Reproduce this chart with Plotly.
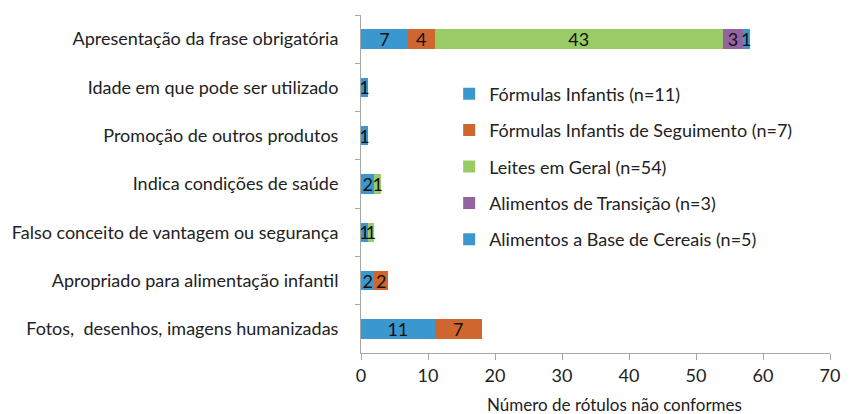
import plotly.graph_objects as go

categories = [
    "Apresentação da frase obrigatória",
    "Idade em que pode ser utilizado",
    "Promoção de outros produtos",
    "Indica condições de saúde",
    "Falso conceito de vantagem ou segurança",
    "Apropriado para alimentação infantil",
    "Fotos,  desenhos, imagens humanizadas",
]
series_names = [
    "Fórmulas Infantis (n=11)",
    "Fórmulas Infantis de Seguimento (n=7)",
    "Leites em Geral (n=54)",
    "Alimentos de Transição (n=3)",
    "Alimentos a Base de Cereais (n=5)",
]
formulas_infantis = [7, 1, 1, 2, 1, 2, 11]
formulas_seguimento = [4, None, None, None, None, 2, 7]
leites_geral = [43, None, None, 1, 1, None, None]
alimentos_transicao = [3, None, None, None, None, None, None]
alimentos_cereais = [1, None, None, None, None, None, None]
series_values = [formulas_infantis, formulas_seguimento, leites_geral,
                 alimentos_transicao, alimentos_cereais]
colors = ["#3A98CE", "#D0662F", "#9BCB66", "#9464A0", "#3A98CE"]
x_ticks = [0, 10, 20, 30, 40, 50, 60, 70]
x_title = "Número de rótulos não conformes"

FONT = "Lato, 'Open Sans', sans-serif"
FS = 18

fig = go.Figure()
for i, (name, vals, col) in enumerate(zip(series_names, series_values, colors)):
    fig.add_trace(go.Bar(
        y=categories, x=vals, name=name, orientation="h",
        legendgroup="g%d" % i,
        marker=dict(color=col, line=dict(width=0)),
        text=[str(v) if v else "" for v in vals],
        textposition="inside", insidetextanchor="middle",
        textangle=0, constraintext="none",
        textfont=dict(color="#111111", size=FS, family=FONT),
    ))

# page has an 8px body margin, so the figure is 844x406 placed at (8, 8)
fig.update_layout(
    barmode="stack",
    bargap=0.60,
    width=844, height=406,
    margin=dict(l=353, r=22, t=7, b=61, autoexpand=False),
    plot_bgcolor="white", paper_bgcolor="white",
    font=dict(family=FONT, size=FS, color="#222222"),
    showlegend=True,
    legend=dict(
        x=0.188, y=0.821, xanchor="left", yanchor="top",
        font=dict(size=FS, color="#222222"),
        bgcolor="rgba(0,0,0,0)",
        tracegroupgap=10, itemsizing="constant",
        traceorder="grouped",
    ),
    xaxis=dict(
        range=[0, 70], tickvals=x_ticks, ticks="outside", ticklen=6,
        tickcolor="#A6A6A6", showline=True, linecolor="#A6A6A6",
        showgrid=False, zeroline=False, automargin=False,
        tickfont=dict(size=FS, color="#222222"),
    ),
    yaxis=dict(
        categoryorder="array", categoryarray=categories,
        autorange="reversed", automargin=False,
        ticks="outside", ticklen=5, tickcolor="#A6A6A6",
        tickson="boundaries",
        showline=True, linecolor="#A6A6A6", showgrid=False,
        tickfont=dict(size=FS, color="#222222"),
        ticklabelstandoff=18,
    ),
    annotations=[dict(
        text=x_title, xref="paper", yref="paper",
        x=0.54, y=-0.151, xanchor="center", yanchor="middle",
        showarrow=False, font=dict(size=FS - 1, color="#222222"),
    )],
)

fig.write_html("out.html")
